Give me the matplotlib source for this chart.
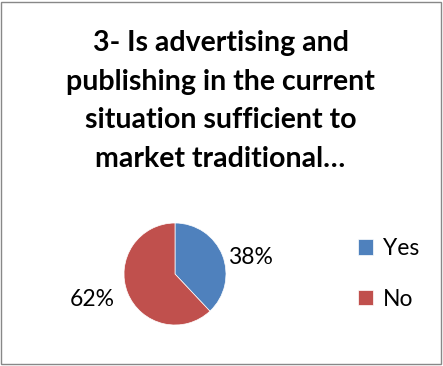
import matplotlib.pyplot as plt
from matplotlib.patches import Rectangle

labels = ['Yes', 'No']
shares = [38, 62]
colors = ['#4F81BD', '#C0504D']
title = '3- Is advertising and\npublishing in the current\nsituation sufficient to\nmarket traditional…'

plt.rcParams['font.family'] = ['Lato', 'DejaVu Sans']

fig = plt.figure(figsize=(4.43, 3.66), dpi=100)

# chart frame
fig.patches.append(Rectangle((0.003, 0.005), 0.993, 0.99, transform=fig.transFigure,
                             fill=False, edgecolor='#888888', linewidth=1))

fig.text(0.498, 0.918, title, ha='center', va='top', fontsize=20.5, fontweight='bold',
         linespacing=1.6)

r = 51
ax = fig.add_axes([(175 - r) / 443, 1 - (274 + r) / 366, 2 * r / 443, 2 * r / 366])
wedges, _ = ax.pie(shares, colors=colors, startangle=90, counterclock=False,
                   wedgeprops=dict(edgecolor='white', linewidth=0.5))
ax.set_xlim(-1, 1)
ax.set_ylim(-1, 1)

# percentage labels outside the slices
fig.text(250 / 443, 1 - 257 / 366, f'{shares[0]}%', ha='center', va='center', fontsize=16.5)
fig.text(92 / 443, 1 - 299 / 366, f'{shares[1]}%', ha='center', va='center', fontsize=16.5)

fig.legend(wedges, labels, loc='center left', bbox_to_anchor=(337 / 443, 1 - 274 / 366),
           frameon=False, fontsize=16.5, handlelength=0.65, handleheight=0.65,
           labelspacing=1.3, handletextpad=0.45)

fig.savefig('out.png', dpi=100)
